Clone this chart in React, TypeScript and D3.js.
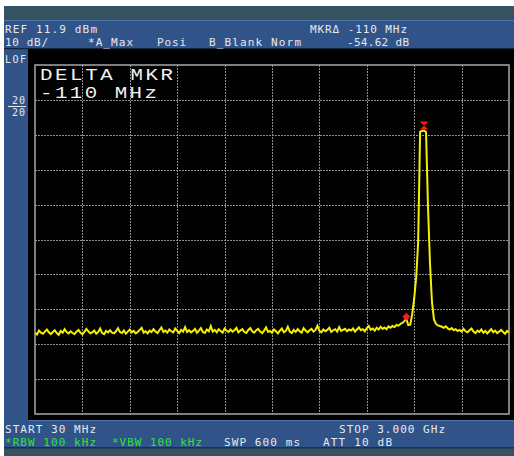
import React from "react";
import * as d3 from "d3";

// ---- data ----
const START_MHZ = 30;
const STOP_MHZ = 3000;
const REF_DBM = 11.9;
const DB_PER_DIV = 10;
const X_DIVS = 10;
const Y_DIVS = 10;

// trace A (max hold), dBm, equally spaced from START to STOP
const traceDbm: number[] = [
  -64.9,-65.3,-64.2,-64.8,-65.1,-64.5,-63.9,-64.7,-65.2,-64.6,-64.1,-64.9,-65.4,-64.3,-64.8,-63.8,-64.6,-65.0,-64.4,-64.9,
  -65.2,-64.5,-64.0,-64.8,-65.3,-64.6,-63.7,-64.4,-65.0,-64.7,-64.2,-65.1,-64.6,-63.6,-64.9,-65.2,-64.3,-64.7,-64.1,-64.8,
  -65.0,-64.4,-63.5,-64.6,-64.9,-64.2,-65.1,-64.5,-63.9,-64.7,-64.3,-65.0,-64.6,-64.0,-63.4,-64.8,-64.4,-65.0,-64.2,-64.6,
  -63.8,-64.5,-64.9,-64.1,-63.3,-64.6,-64.2,-64.8,-63.9,-64.4,-64.7,-63.6,-64.3,-64.9,-64.0,-64.5,-63.2,-64.6,-64.1,-64.7,
  -64.3,-63.7,-64.8,-64.2,-63.5,-64.6,-64.9,-63.9,-64.4,-62.9,-64.5,-64.0,-64.7,-63.8,-64.3,-64.8,-63.6,-64.2,-64.6,-63.9,
  -64.5,-64.1,-63.4,-64.7,-64.2,-63.8,-64.6,-64.9,-64.0,-63.5,-64.4,-64.8,-64.1,-63.7,-64.5,-64.9,-64.2,-63.3,-64.6,-64.3,
  -64.8,-63.9,-64.4,-65.0,-64.2,-63.6,-64.7,-64.3,-63.1,-64.5,-64.9,-64.0,-64.6,-63.8,-64.4,-64.8,-63.5,-64.2,-64.7,-64.1,
  -63.7,-64.5,-64.0,-62.8,-64.3,-64.7,-63.9,-64.4,-64.0,-63.4,-64.6,-64.1,-63.8,-64.5,-63.2,-64.3,-64.0,-63.7,-64.4,-63.9,
  -64.2,-63.6,-64.5,-63.9,-63.3,-64.1,-63.8,-64.4,-63.5,-62.9,-64.0,-63.6,-64.2,-63.4,-63.9,-63.1,-63.7,-63.3,-63.8,-63.0,
  -63.4,-62.9,-63.2,-62.6,-62.8,-62.3,
  -62.0,-61.5,-60.8,-62.6,-62.5,-59.5,-55.0,-49.0,-39.0,-7.2,-7.0,-6.9,-7.3,-29.0,-45.0,-56.0,-61.0,-62.3,-62.7,-62.9,
  -63.1,-63.4,-63.0,-63.6,-63.9,-63.5,-64.1,-63.8,-64.3,-64.0,-64.5,-63.7,-64.4,-64.7,-64.1,-63.6,-64.5,-64.9,-64.2,-64.6,
  -63.9,-64.8,-64.3,-65.0,-64.4,-63.8,-64.7,-64.2,-64.9,-64.5,-64.0,-64.6,-65.1,-64.3,-64.7,
];

const DELTA_MARKER_INDEX = 188;
const PEAK_MARKER_INDEX = 197;

const headerLine1 = [
  { text: "REF 11.9 dBm", x: 5, w: 92 },
  { text: "MKR\u0394 -110 MHz", x: 310, w: 97 },
];
const headerLine2 = [
  { text: "10 dB/", x: 5, w: 43 },
  { text: "*A_Max", x: 88, w: 45 },
  { text: "Posi", x: 157, w: 29 },
  { text: "B_Blank Norm", x: 209, w: 92 },
  { text: "-54.62 dB", x: 347, w: 62 },
];
const footerLine1 = [
  { text: "START 30 MHz", x: 5, w: 91, c: "#e8e8e8" },
  { text: "STOP 3.000 GHz", x: 339, w: 106, c: "#e8e8e8" },
];
const footerLine2 = [
  { text: "*RBW 100 kHz", x: 5, w: 91, c: "#2fe52f" },
  { text: "*VBW 100 kHz", x: 112, w: 90, c: "#2fe52f" },
  { text: "SWP 600 ms", x: 224, w: 76, c: "#e8e8e8" },
  { text: "ATT 10 dB", x: 323, w: 69, c: "#e8e8e8" },
];
const bigText = ["DELTA MKR", "-110 MHz"];

export default function App() {
  const W = 514, H = 456;
  const gx0 = 35, gx1 = 509, gy0 = 65, gy1 = 414;

  const x = d3.scaleLinear().domain([START_MHZ, STOP_MHZ]).range([gx0, gx1]);
  const y = d3
    .scaleLinear()
    .domain([REF_DBM - DB_PER_DIV * Y_DIVS, REF_DBM])
    .range([gy1, gy0]);

  const n = traceDbm.length;
  const freq = (i: number) => START_MHZ + (i * (STOP_MHZ - START_MHZ)) / (n - 1);

  const line = d3
    .line<number>()
    .x((_, i) => x(freq(i)))
    .y((d) => y(d));

  const xDivs = d3.range(1, X_DIVS).map((k) => START_MHZ + (k * (STOP_MHZ - START_MHZ)) / X_DIVS);
  const yDivs = d3.range(1, Y_DIVS).map((k) => REF_DBM - k * DB_PER_DIV);

  const dmx = x(freq(DELTA_MARKER_INDEX));
  const dmy = y(traceDbm[DELTA_MARKER_INDEX]);
  const pmx = x(freq(PEAK_MARKER_INDEX));
  const pmy = y(traceDbm[PEAK_MARKER_INDEX]);
  const diamond = d3.symbol(d3.symbolDiamond2, 40)() as string;

  const font = "'DejaVu Sans Mono', monospace";
  const blue = "#30548a";
  const teal = "#34525f";
  const sx = 1.3;

  return (
    <svg
      width={W}
      height={H}
      style={{ position: "absolute", left: 0, top: 0, background: "#fff" }}
    >
      <rect x={0} y={0} width={W} height={H} fill="#fff" />
      {/* outer screen */}
      <rect x={4} y={6} width={W - 4} height={H - 6} fill={teal} />
      {/* header band */}
      <rect x={4} y={20} width={W - 4} height={29} fill={blue} />
      <rect x={4} y={20} width={W - 4} height={1} fill="#4e74a8" />
      {/* footer band */}
      <rect x={4} y={420} width={W - 4} height={28} fill={blue} />
      <rect x={4} y={420} width={W - 4} height={1} fill="#4e74a8" />
      <rect x={4} y={447} width={W - 4} height={1.5} fill="#1c3150" />
      {/* left strip */}
      <rect x={4} y={48} width={25} height={373} fill={blue} />
      {/* black screen */}
      <rect x={28} y={48} width={W - 28} height={372} fill="#000" />
      <rect x={4} y={48} width={W - 4} height={1.2} fill="#15243a" />

      {/* grid */}
      <g stroke="#8e8e8e" strokeWidth={1} strokeDasharray="2 1" shapeRendering="crispEdges">
        {xDivs.map((f, i) => (
          <line key={"v" + i} x1={Math.round(x(f)) + 0.5} x2={Math.round(x(f)) + 0.5} y1={gy0} y2={gy1} />
        ))}
        {yDivs.map((d, i) => (
          <line key={"h" + i} y1={Math.round(y(d)) + 0.5} y2={Math.round(y(d)) + 0.5} x1={gx0} x2={gx1} />
        ))}
      </g>
      <rect
        x={gx0}
        y={gy0}
        width={gx1 - gx0}
        height={gy1 - gy0}
        fill="none"
        stroke="#a8a8a8"
        strokeWidth={1.5}
      />

      {/* big delta marker text */}
      <g
        fill="#f2f2f2"
        fontFamily="'Liberation Mono', monospace"
        fontSize={16}
        transform={`scale(${sx},1)`}
      >
        <text x={40 / sx} y={80.5} textLength={133 / sx} lengthAdjust="spacing">{bigText[0]}</text>
        <text x={40 / sx} y={98} textLength={117 / sx} lengthAdjust="spacing">{bigText[1]}</text>
      </g>

      {/* trace */}
      <defs>
        <clipPath id="gridclip">
          <rect x={gx0} y={gy0} width={gx1 - gx0} height={gy1 - gy0} />
        </clipPath>
      </defs>
      <path
        d={line(traceDbm) as string}
        fill="none"
        stroke="#f4f000"
        strokeWidth={2}
        strokeLinejoin="miter"
        clipPath="url(#gridclip)"
      />

      {/* markers */}
      <path d={diamond} transform={`translate(${dmx},${dmy - 2})`} fill="#ff1a1a" />
      <path
        d={`M${pmx - 4.5},${pmy - 9} L${pmx + 4.5},${pmy - 9} L${pmx},${pmy - 5} L${pmx + 4.5},${pmy - 1} L${pmx - 4.5},${pmy - 1} L${pmx},${pmy - 5} Z`}
        fill="#ff1a1a"
      />

      {/* header texts */}
      <g fill="#e8e8e8" fontFamily={font} fontSize={11}>
        {headerLine1.map((t) => (
          <text key={t.text} x={t.x} y={33} textLength={t.w} lengthAdjust="spacing">{t.text}</text>
        ))}
        {headerLine2.map((t) => (
          <text key={t.text} x={t.x} y={45.5} textLength={t.w} lengthAdjust="spacing">{t.text}</text>
        ))}
      </g>

      {/* left strip labels */}
      <g fill="#e8e8e8" fontFamily={font} fontSize={10}>
        <text x={5} y={63} textLength={21} lengthAdjust="spacing">LOF</text>
        <text x={12} y={104} textLength={13} lengthAdjust="spacing">20</text>
        <text x={12} y={116} textLength={13} lengthAdjust="spacing">20</text>
      </g>
      <line x1={8} x2={26} y1={106.5} y2={106.5} stroke="#e8e8e8" strokeWidth={1} />

      {/* footer texts */}
      <g fontFamily={font} fontSize={11}>
        {footerLine1.map((t) => (
          <text key={t.text} x={t.x} y={433} fill={t.c} textLength={t.w} lengthAdjust="spacing">{t.text}</text>
        ))}
        {footerLine2.map((t) => (
          <text key={t.text} x={t.x} y={446} fill={t.c} textLength={t.w} lengthAdjust="spacing">{t.text}</text>
        ))}
      </g>
    </svg>
  );
}
